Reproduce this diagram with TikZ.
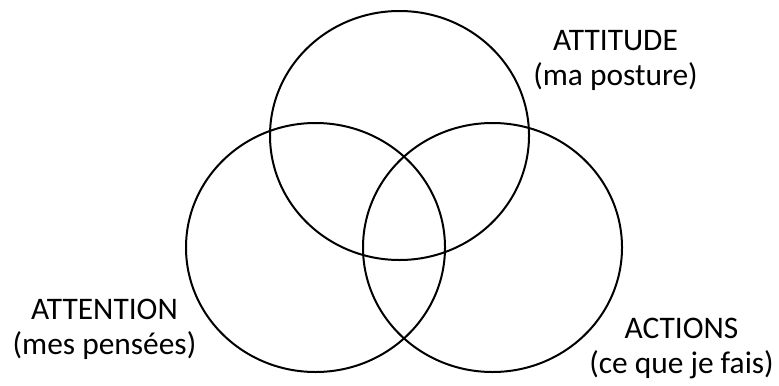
\documentclass[tikz,border=0pt]{standalone}
\usepackage{fontspec}
\setmainfont{Carlito}
\usetikzlibrary{shapes.geometric, positioning}
\tikzset{
  venn/.style  = {draw, ellipse, line width=1pt, inner sep=0pt,
                  minimum width=129.5pt, minimum height=124.5pt},
  label/.style = {align=center, inner sep=0pt,
                  font=\fontsize{15.7}{17.5}\selectfont},
}

\begin{document}
\begin{tikzpicture}[x=0.5pt, y=-0.5pt]
  \useasboundingbox (0,0) rectangle (779,385);

  % Three sets
  \node[venn] (attitude) at (399.5,135.5) {};
  \node[venn] (attention) at (315.5,247.5) {};
  \node[venn] (actions)   at (492.5,247.5) {};

  % Labels
  \node[label] (lattitude)  at (615.5,60)  {ATTITUDE\\(ma posture)};
  \node[label] (lattention) at (104.5,329) {ATTENTION\\(mes pensées)};
  \node[label] (lactions)   at (681.5,348) {ACTIONS\\(ce que je fais)};
\end{tikzpicture}
\end{document}
